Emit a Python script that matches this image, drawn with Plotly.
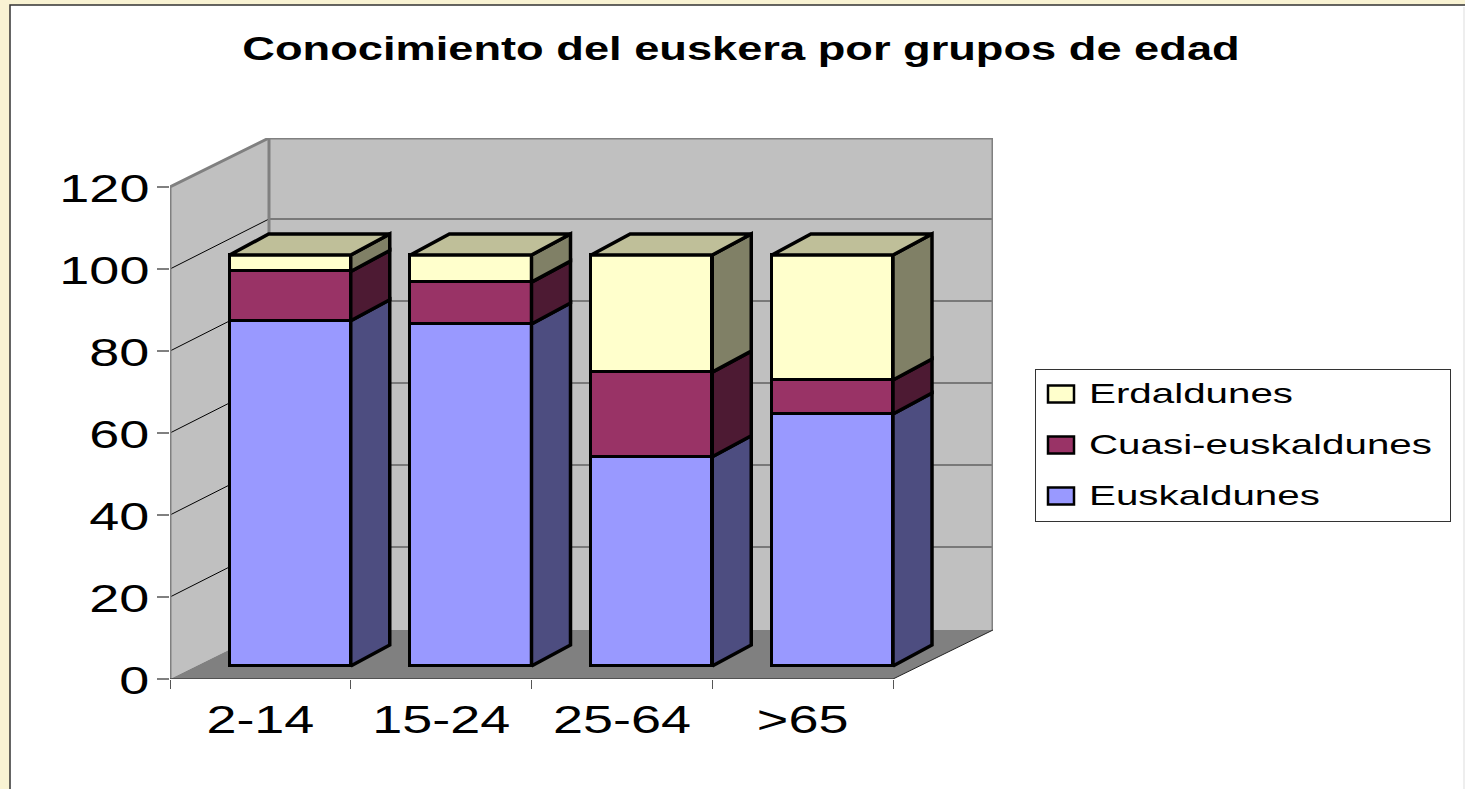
import plotly.graph_objects as go

categories = ["2-14", "15-24", "25-64", ">65"]
euskaldunes = [84.0, 83.2, 50.9, 61.3]
cuasi = [12.0, 10.2, 20.6, 8.3]
erdaldunes = [4.0, 6.6, 28.5, 30.4]
y_ticks = [0, 20, 40, 60, 80, 100, 120]
title_text = "Conocimiento del euskera por grupos de edad"

W, H = 1465, 789
L, R, T, B = 170, 993, 138, 679      # plot box, px
CAT_PX = (893 - 170) / 4
PX_Y = 4.1
PX_Y2 = 4.11
XMAX = -0.5 + (R - L) / CAT_PX
WALL_DX = 99 / CAT_PX
WALL_DY = 49 / PX_Y
GRID_DY = 50 / PX_Y
BAR_W = 0.67
BAR_OFF = 0.5 - BAR_W
BAR_DX = 39 / CAT_PX
BAR_DY = 21 / PX_Y2

series = [
    ("Euskaldunes", euskaldunes, "#9999FF", "#4D4D80"),
    ("Cuasi-euskaldunes", cuasi, "#993366", "#4D1A33"),
    ("Erdaldunes", erdaldunes, "#FFFFCC", "#808066"),
]
TOP_COLOR = "#BFBF99"
GRID = "#000000"
EDGE = "#808080"
positions = list(range(len(categories)))
boundaries = [p - 0.5 for p in positions] + [positions[-1] + 0.5]

fig = go.Figure()


def poly(xs, ys, fill, yaxis, line=None, width=0):
    fig.add_trace(go.Scatter(
        x=xs, y=ys, mode="lines", fill="toself", fillcolor=fill, yaxis=yaxis,
        line=dict(color=line or fill, width=width), showlegend=False,
        hoverinfo="skip", cliponaxis=False))


def seg(xs, ys, color, width):
    fig.add_trace(go.Scatter(
        x=xs, y=ys, mode="lines", yaxis="y", line=dict(color=color, width=width),
        showlegend=False, hoverinfo="skip", cliponaxis=False))


x0, x1 = boundaries[0], boundaries[-1]
top = y_ticks[-1]
# Walls and floor
poly([x0 + WALL_DX, XMAX, XMAX, x0 + WALL_DX], [WALL_DY, WALL_DY, top + WALL_DY, top + WALL_DY], "#C0C0C0", "y")
poly([x0, x0, x0 + WALL_DX, x0 + WALL_DX], [0, top, top + WALL_DY, WALL_DY], "#C0C0C0", "y")
poly([x0, x1, XMAX, x0 + WALL_DX], [0, 0, WALL_DY, WALL_DY], "#808080", "y")
# Gridlines
for v in y_ticks[1:-1]:
    seg([x0, x0 + WALL_DX], [v, v + GRID_DY], GRID, 1)
    seg([x0 + WALL_DX, XMAX], [v + GRID_DY, v + GRID_DY], "#333333", 1)
# Wall edges
seg([x0, x0, x0 + WALL_DX, XMAX, XMAX], [0, top, top + WALL_DY, top + WALL_DY, WALL_DY], EDGE, 3)
seg([x0 + WALL_DX, x0 + WALL_DX], [WALL_DY, top + WALL_DY], EDGE, 3)
seg([x1, XMAX], [0, WALL_DY], "#222222", 1)
seg([x0, x1], [0, 0], "#222222", 1)

# Front faces
for name, vals, col, _ in series:
    fig.add_trace(go.Bar(
        x=positions, y=vals, name=name, yaxis="y2", width=BAR_W, offset=BAR_OFF,
        marker=dict(color=col, line=dict(color="#000000", width=3.5)),
        customdata=categories, legendgroup=name,
        hovertemplate="%{customdata}: %{y}<extra>" + name + "</extra>"))

# Side and top faces
for i in positions:
    xr = i + BAR_OFF + BAR_W
    xl = i + BAR_OFF
    base = 0.0
    for name, vals, col, side in series:
        t = base + vals[i]
        poly([xr, xr + BAR_DX, xr + BAR_DX, xr, xr],
             [base, base + BAR_DY, t + BAR_DY, t, base], side, "y2", "#000000", 3.5)
        base = t
    poly([xl, xl + BAR_DX, xr + BAR_DX, xr, xl],
         [base, base + BAR_DY, base + BAR_DY, base, base], TOP_COLOR, "y2", "#000000", 3.5)

fig.add_shape(type="rect", xref="paper", yref="paper",
              x0=(10 - L) / (R - L), x1=(1480 - L) / (R - L),
              y0=(B - 800) / (B - T), y1=(B - 5) / (B - T),
              fillcolor="#FFFFFF", line=dict(color="#333333", width=1.5), layer="below")
fig.add_shape(type="rect", xref="paper", yref="paper",
              x0=(1463 - L) / (R - L), x1=(1470 - L) / (R - L),
              y0=(B - 800) / (B - T), y1=(B - 7) / (B - T),
              fillcolor="#EEEEEE", line=dict(width=0), layer="below")

fig.update_layout(
    width=W, height=H, autosize=False,
    margin=dict(l=L, r=W - R, t=T, b=H - B, pad=0),
    paper_bgcolor="#F9F3D3", plot_bgcolor="rgba(0,0,0,0)",
    barmode="stack", bargap=0,
    font=dict(family="Liberation Sans", color="#000000"),
    title=dict(text="<b>" + title_text + "</b>", font=dict(size=33, family="Liberation Sans"),
               x=741 / W, xanchor="center", xref="container", y=1 - 48 / H, yanchor="middle"),
    xaxis=dict(range=[x0, XMAX], tickmode="array", tickvals=positions, ticktext=categories,
               ticks="", showgrid=False, zeroline=False, showline=False,
               tickfont=dict(size=38), ticklabelstandoff=15, fixedrange=True,
               minor=dict(tickmode="array", tickvals=boundaries, ticks="outside", ticklen=9,
                          tickcolor="#555555", tickwidth=1, showgrid=False)),
    yaxis=dict(range=[0, (B - T) / PX_Y], tickvals=y_ticks, ticks="outside", ticklen=12,
               tickcolor="#808080", tickwidth=1.5, showgrid=False, zeroline=False, showline=False,
               tickfont=dict(size=38), ticklabelstandoff=0, fixedrange=True),
    yaxis2=dict(range=[-(B - 666) / PX_Y2, (666 - T) / PX_Y2], overlaying="y", visible=False, fixedrange=True),
    showlegend=True,
    legend=dict(x=1035 / W, xref="container", xanchor="left", y=1 - 369 / H, yref="container", yanchor="top",
                bgcolor="#FFFFFF", bordercolor="#333333", borderwidth=1,
                font=dict(size=28), traceorder="reversed", itemwidth=30),
)

post = """
document.body.style.margin='0';
document.body.style.overflow='hidden';
function stretch(sel,f){document.querySelectorAll(sel).forEach(function(t){
  var n=t.getComputedTextLength();
  t.setAttribute('textLength',n*f);t.setAttribute('lengthAdjust','spacingAndGlyphs');});}
stretch('.xtick text',1.42);stretch('.ytick text',1.42);
stretch('.gtitle',1.37);
document.querySelectorAll('.ytick text').forEach(function(t){t.setAttribute('dy','2');});
var lg=document.querySelector('.legend');
var bg=lg.querySelector('.bg');bg.setAttribute('width',415);bg.setAttribute('height',152);
var sb=lg.querySelector('.scrollbox');sb.removeAttribute('clip-path');
lg.querySelectorAll('.traces').forEach(function(g,i){
  g.setAttribute('transform','translate(0,'+(23+i*51)+')');
  var t=g.querySelector('.legendtext');
  t.setAttribute('x',54);
  g.querySelectorAll('.legendpoints path').forEach(function(p){
    if(p.getAttribute('d')&&p.getBBox().width>0){
      p.setAttribute('d','M13,-8.5H-13V8.5H13Z');p.setAttribute('transform','translate(26,2)');
      p.style.stroke='#000';p.style.strokeWidth='2.5px';}
  });
});
stretch('.legendtext',1.44);
"""
fig.write_html("out.html", post_script=post, config={"displayModeBar": False})
